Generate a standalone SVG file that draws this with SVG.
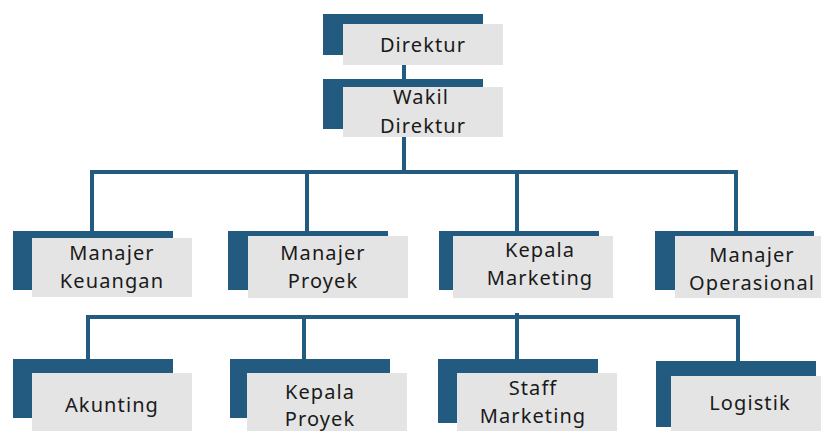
<svg xmlns="http://www.w3.org/2000/svg" width="821" height="431" viewBox="0 0 821 431">
<style>
.d{fill:#235a7f}
.l{fill:#e4e4e4}
.t{font-family:"Noto Sans","Open Sans",sans-serif;font-size:20px;fill:#1a1a1a;text-anchor:middle;letter-spacing:1.1px}
.c{stroke:#235a7f;stroke-width:4;fill:none}
</style>
<rect width="821" height="431" fill="#fff"/>
<g id="connectors">
<line class="c" x1="404" y1="65" x2="404" y2="80"/>
<path class="c" d="M404 137V172M92 231V172H736V231M307 172V231M517 172V231"/>
<path class="c" d="M88 359V317H738V362M304 317V359M517 313V360"/>
</g>
<g id="direktur">
<rect class="d" x="323" y="14" width="160" height="41"/>
<rect class="l" x="343" y="24" width="160" height="41"/>
<text class="t" x="423" y="52">Direktur</text>
</g>
<g id="wakil">
<rect class="d" x="323" y="79" width="160" height="50"/>
<rect class="l" x="343" y="87" width="160" height="50"/>
<text class="t" x="421" y="104">Wakil</text>
<text class="t" x="423" y="133">Direktur</text>
</g>
<g id="keuangan">
<rect class="d" x="13" y="231" width="160" height="59"/>
<rect class="l" x="32" y="238" width="160" height="59"/>
<text class="t" x="112" y="260">Manajer</text>
<text class="t" x="112" y="288">Keuangan</text>
</g>
<g id="proyek">
<rect class="d" x="228" y="231" width="160" height="59"/>
<rect class="l" x="248" y="236" width="160" height="62"/>
<text class="t" x="323" y="260">Manajer</text>
<text class="t" x="323" y="288">Proyek</text>
</g>
<g id="kepala-marketing">
<rect class="d" x="439" y="231" width="160" height="59"/>
<rect class="l" x="453" y="236" width="160" height="62"/>
<text class="t" x="540" y="257">Kepala</text>
<text class="t" x="540" y="285">Marketing</text>
</g>
<g id="operasional">
<rect class="d" x="655" y="231" width="159" height="59"/>
<rect class="l" x="675" y="236" width="160" height="62"/>
<text class="t" x="752" y="262">Manajer</text>
<text class="t" x="752" y="290">Operasional</text>
</g>
<g id="akunting">
<rect class="d" x="13" y="359" width="160" height="59"/>
<rect class="l" x="32" y="373" width="160" height="60"/>
<text class="t" x="112" y="412">Akunting</text>
</g>
<g id="kepala-proyek">
<rect class="d" x="230" y="359" width="160" height="59"/>
<rect class="l" x="247" y="373" width="160" height="60"/>
<text class="t" x="320" y="399">Kepala</text>
<text class="t" x="320" y="426">Proyek</text>
</g>
<g id="staff-marketing">
<rect class="d" x="438" y="359" width="160" height="64"/>
<rect class="l" x="457" y="373" width="160" height="60"/>
<text class="t" x="533" y="395">Staff</text>
<text class="t" x="533" y="423">Marketing</text>
</g>
<g id="logistik">
<rect class="d" x="656" y="361" width="160" height="66"/>
<rect class="l" x="671" y="376" width="160" height="57"/>
<text class="t" x="750" y="410">Logistik</text>
</g>
</svg>
